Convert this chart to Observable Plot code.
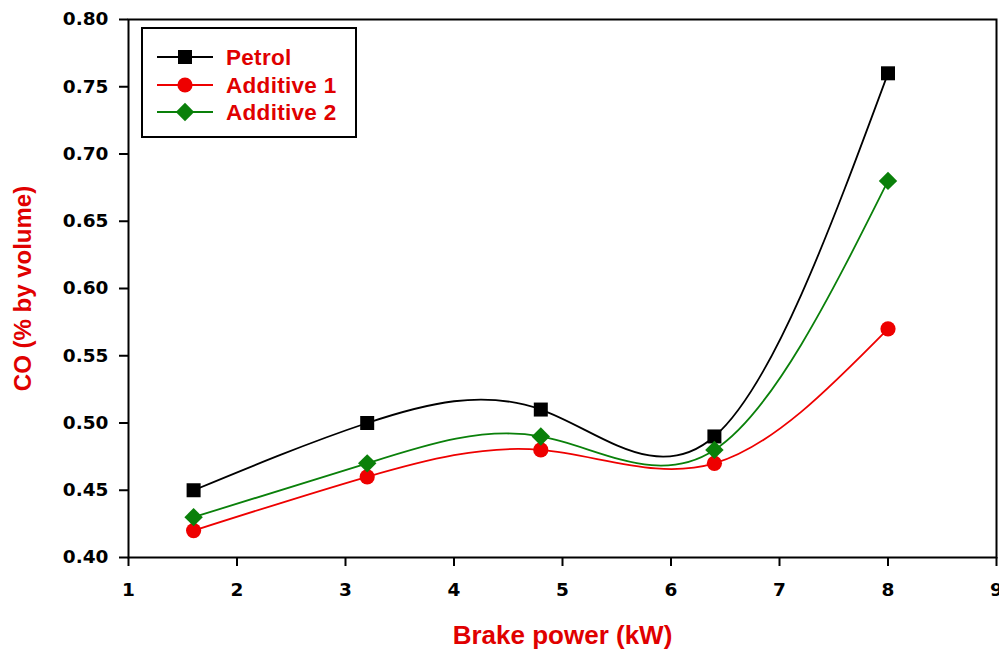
<!DOCTYPE html>
<html>
<head>
<meta charset="utf-8">
<script src="https://cdn.jsdelivr.net/npm/d3@7"></script>
<script src="https://cdn.jsdelivr.net/npm/@observablehq/plot@0.6"></script>
<style>
  body { margin: 0; background: #fff; }
  #chart { position: relative; width: 999px; height: 652px; }
  svg { font-family: "Liberation Sans", Arial, sans-serif; }
</style>
</head>
<body>
<div id="chart"></div>
<script>
const brakePower = [1.6, 3.2, 4.8, 6.4, 8.0];
const petrol    = [0.45, 0.50, 0.51, 0.49, 0.76];
const additive1 = [0.42, 0.46, 0.48, 0.47, 0.57];
const additive2 = [0.43, 0.47, 0.49, 0.48, 0.68];
const seriesNames = ["Petrol", "Additive 1", "Additive 2"];
const seriesColors = ["#000000", "#ee0000", "#0a800a"];
const seriesSymbols = ["square", "circle", "diamond2"];
const seriesR = [7.9, 7.6, 8.3];
const xTicks = [1, 2, 3, 4, 5, 6, 7, 8, 9];
const yTicks = [0.40, 0.45, 0.50, 0.55, 0.60, 0.65, 0.70, 0.75, 0.80];

const allValues = [petrol, additive1, additive2];
const data = [];
seriesNames.forEach((s, i) => brakePower.forEach((x, j) => data.push({series: s, x, y: allValues[i][j]})));

const titleRed = "#e00000";
const tickFont = "DejaVu Sans, sans-serif";

const dotMarks = seriesNames.map((s, i) => Plot.dot(data.filter(d => d.series === s), {
  x: "x", y: "y", symbol: () => seriesSymbols[i], fill: seriesColors[i], stroke: "none", r: seriesR[i]
}));

const chart = Plot.plot({
  width: 999, height: 652,
  marginLeft: 128, marginRight: 3, marginTop: 19, marginBottom: 95,
  style: {fontFamily: "Liberation Sans, Arial, sans-serif", background: "white"},
  x: {domain: [1, 9], ticks: xTicks},
  y: {domain: [0.40, 0.80], ticks: yTicks},
  symbol: {type: "identity"},
  marks: [
    Plot.axisX({ticks: xTicks, tickSize: 9, tickPadding: 16, strokeWidth: 2, label: null, tickFormat: d3.format("d"),
      fontSize: 18.5, fontWeight: "bold", fill: "black", fontFamily: tickFont}),
    Plot.axisY({ticks: yTicks, tickSize: 9, tickPadding: 11, strokeWidth: 2, label: null, tickFormat: d3.format(".2f"),
      fontSize: 18.5, fontWeight: "bold", fill: "black", fontFamily: tickFont}),
    Plot.frame({stroke: "black", strokeWidth: 2}),
    Plot.line(data, {x: "x", y: "y", z: "series", stroke: d => seriesColors[seriesNames.indexOf(d.series)], curve: "natural", strokeWidth: 1.8}),
    ...dotMarks,
    Plot.text(["Brake power (kW)"], {frameAnchor: "bottom", dy: 78, fill: titleRed, fontSize: 26, fontWeight: "bold",
      text: d => d, lineAnchor: "middle", textAnchor: "middle", style: "letter-spacing:1.3px"}),
    Plot.text(["CO (% by volume)"], {frameAnchor: "left", dx: -105, rotate: -90, fill: titleRed, fontSize: 24, fontWeight: "bold",
      text: d => d, lineAnchor: "middle", textAnchor: "middle"})
  ]
});

// Legend
const svg = d3.select(chart);
const lg = svg.append("g").attr("text-anchor", "start");
lg.append("rect").attr("x", 142).attr("y", 28).attr("width", 214).attr("height", 109)
  .attr("fill", "white").attr("stroke", "black").attr("stroke-width", 2);
const rowsY = [57, 85, 112];
const symMap = {square: d3.symbolSquare, circle: d3.symbolCircle, diamond2: d3.symbolDiamond2};
seriesNames.forEach((s, i) => {
  const y = rowsY[i];
  lg.append("line").attr("x1", 157).attr("x2", 213).attr("y1", y).attr("y2", y)
    .attr("stroke", seriesColors[i]).attr("stroke-width", 2);
  lg.append("path").attr("d", d3.symbol(symMap[seriesSymbols[i]], Math.PI * seriesR[i] * seriesR[i])())
    .attr("transform", `translate(185,${y})`).attr("fill", seriesColors[i]);
  lg.append("text").attr("x", 226).attr("y", y).attr("dy", "0.35em").attr("text-anchor", "start")
    .attr("fill", titleRed).attr("font-size", 22.5).attr("font-weight", "bold")
    .style("letter-spacing", "0.3px").text(s);
});

document.getElementById("chart").appendChild(chart);
</script>
</body>
</html>
